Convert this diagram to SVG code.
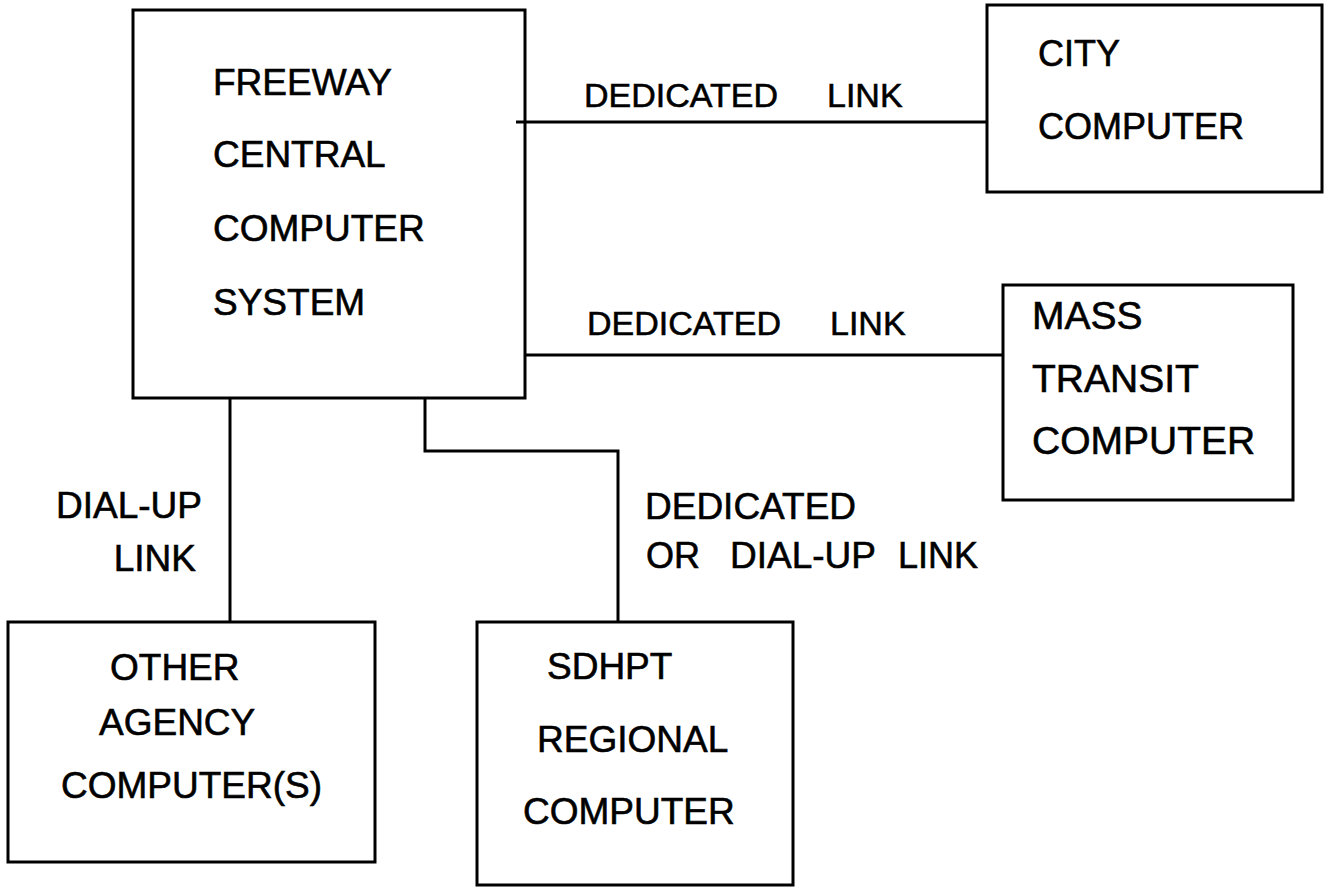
<svg xmlns="http://www.w3.org/2000/svg" width="1325" height="888" viewBox="0 0 1325 888">
<style>
.box{fill:none;stroke:#000;stroke-width:3}
.con{fill:none;stroke:#000;stroke-width:3}
text{font-family:"Liberation Sans",Arial,sans-serif;font-size:37px;fill:#000;stroke:#000;stroke-width:0.6}
.s34{font-size:34px}
.s36{font-size:36px}
.s39{font-size:39px}
</style>
<rect width="1325" height="888" fill="#fff"/>
<g id="connectors">
<line class="con" x1="516" y1="122" x2="987" y2="122"/>
<line class="con" x1="525" y1="355" x2="1003" y2="355"/>
<line class="con" x1="230" y1="397" x2="230" y2="622"/>
<polyline class="con" points="425,397 425,451 618,451 618,622"/>
<text class="s34" x="584" y="107">DEDICATED</text><text class="s34" x="827" y="107">LINK</text>
<text class="s34" x="587" y="335">DEDICATED</text><text class="s34" x="830" y="335">LINK</text>
<text x="202" y="518" text-anchor="end">DIAL-UP</text>
<text x="196" y="571" text-anchor="end">LINK</text>
<text x="645" y="519">DEDICATED</text>
<text class="s36" x="646" y="568">OR</text><text x="730" y="568">DIAL-UP</text><text class="s36" x="898" y="568">LINK</text>
</g>
<g id="freeway">
<rect class="box" x="133" y="10" width="392" height="388"/>
<text x="213" y="95">FREEWAY</text>
<text x="213" y="167">CENTRAL</text>
<text x="213" y="241">COMPUTER</text>
<text x="213" y="315">SYSTEM</text>
</g>
<g id="city">
<rect class="box" x="987" y="5" width="335" height="187"/>
<text class="s36" x="1038" y="66">CITY</text>
<text class="s36" x="1038" y="139">COMPUTER</text>
</g>
<g id="transit">
<rect class="box" x="1003" y="285" width="290" height="215"/>
<text class="s39" x="1032" y="329">MASS</text>
<text class="s39" x="1032" y="392">TRANSIT</text>
<text class="s39" x="1032" y="454">COMPUTER</text>
</g>
<g id="other">
<rect class="box" x="8" y="622" width="367" height="240"/>
<text x="110" y="680">OTHER</text>
<text x="99" y="735">AGENCY</text>
<text x="61" y="798">COMPUTER(S)</text>
</g>
<g id="sdhpt">
<rect class="box" x="477" y="622" width="316" height="263"/>
<text x="547" y="679">SDHPT</text>
<text x="537" y="752">REGIONAL</text>
<text x="523" y="824">COMPUTER</text>
</g>
</svg>
